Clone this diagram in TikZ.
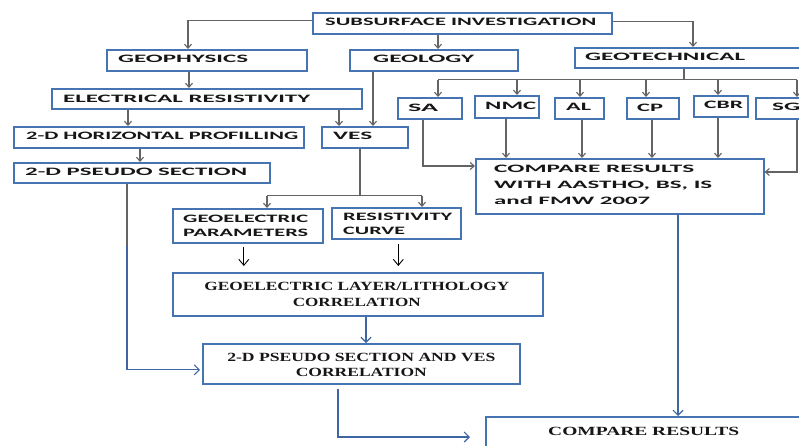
\documentclass[tikz,border=0pt]{standalone}
\usepackage{fontspec}
\usepackage{graphicx}
\usetikzlibrary{arrows.meta,calc}
\newfontfamily\calfont{Carlito}
\newfontfamily\tmsfont{Liberation Serif}
\newcommand\calb{\calfont\bfseries\fontsize{11.3}{14}\selectfont}
\newcommand\tmb{\tmsfont\bfseries\fontsize{12.5}{15.5}\selectfont}
\newcommand\tw[2]{\resizebox{#1pt}{\height}{#2}}
\definecolor{boxblue}{RGB}{70,116,178}
\definecolor{conngray}{RGB}{100,100,100}
\definecolor{lineblue}{RGB}{62,102,165}
\definecolor{txt}{RGB}{22,22,22}
\begin{document}
\begin{tikzpicture}[x=1pt,y=-1pt,
  box/.style={draw=boxblue, line width=1.6pt, fill=white, anchor=north west, inner sep=0pt},
  lbl/.style={anchor=west, inner sep=0pt, font=\calb, text=txt},
  slbl/.style={inner sep=0pt, font=\tmb, text=txt, align=center},
  conn/.style={draw=conngray, line width=1.1pt},
  arr/.style={conn, -{Straight Barb[length=4pt,width=7pt]}},
  bconn/.style={draw=lineblue, line width=1.2pt},
  barr/.style={bconn, -{Straight Barb[length=5pt,width=10pt,line width=1.1pt]}},
  karr/.style={draw=black, line width=0.9pt, -{Straight Barb[length=6pt,width=10pt]}}]
\useasboundingbox (0,0) rectangle (799,445);
\clip (0,0) rectangle (799,445);
\fill[white] (0,0) rectangle (799,445);

% boxes
\node[box, minimum width=299pt, minimum height=21pt] (sub) at (312,12) {};
\node[box, minimum width=200pt, minimum height=21pt] (geophys) at (106,49) {};
\node[box, minimum width=168pt, minimum height=21pt] (geology) at (349,49) {};
\node[box, minimum width=260pt, minimum height=20pt] (geotech) at (574,47) {};
\node[box, minimum width=310pt, minimum height=20pt] (er) at (51,88) {};
\node[box, minimum width=290pt, minimum height=21pt] (hp) at (13,126) {};
\node[box, minimum width=86pt, minimum height=21pt] (ves) at (321,126) {};
\node[box, minimum width=256pt, minimum height=20pt] (ps) at (13,162) {};
\node[box, minimum width=64pt, minimum height=21pt] (sa) at (397,97) {};
\node[box, minimum width=64pt, minimum height=22pt] (nmc) at (474,95) {};
\node[box, minimum width=49pt, minimum height=21pt] (al) at (554,97) {};
\node[box, minimum width=52pt, minimum height=21pt] (cp) at (626,97) {};
\node[box, minimum width=54pt, minimum height=21pt] (cbr) at (693,95) {};
\node[box, minimum width=70pt, minimum height=21pt] (sg) at (755,97) {};
\node[box, minimum width=288pt, minimum height=55pt] (cmp1) at (475,158) {};
\node[box, minimum width=150pt, minimum height=34pt] (gp) at (172,208) {};
\node[box, minimum width=129pt, minimum height=31pt] (rc) at (331,207) {};
\node[box, minimum width=370pt, minimum height=43pt] (glc) at (172,272) {};
\node[box, minimum width=317pt, minimum height=40pt] (psv) at (202,343) {};
\node[box, minimum width=340pt, minimum height=60pt] (cmp2) at (485,416) {};

% labels
\node[lbl] (sub-t) at ($(sub.west)+(13,-1)$) {\tw{271}{SUBSURFACE INVESTIGATION}};
\node[lbl] (geophys-t) at ($(geophys.west)+(12,-1)$) {\tw{130}{GEOPHYSICS}};
\node[lbl] (geology-t) at ($(geology.west)+(24,-1)$) {\tw{101}{GEOLOGY}};
\node[lbl] (geotech-t) at ($(geotech.west)+(11,-1)$) {\tw{160}{GEOTECHNICAL}};
\node[lbl] (er-t) at ($(er.west)+(12,0)$) {\tw{247}{ELECTRICAL RESISTIVITY}};
\node[lbl] (hp-t) at ($(hp.west)+(13,-1)$) {\tw{272}{2-D HORIZONTAL PROFILLING}};
\node[lbl] (ves-t) at ($(ves.west)+(12,-1)$) {\tw{39}{VES}};
\node[lbl] (ps-t) at ($(ps.west)+(12,-1)$) {\tw{222}{2-D PSEUDO SECTION}};
\node[lbl] (sa-t) at ($(sa.west)+(11,0)$) {\tw{30}{SA}};
\node[lbl] (nmc-t) at ($(nmc.west)+(11,-1)$) {\tw{51}{NMC}};
\node[lbl] (al-t) at ($(al.west)+(12,-1)$) {\tw{25}{AL}};
\node[lbl] (cp-t) at ($(cp.west)+(11,0)$) {\tw{26}{CP}};
\node[lbl] (cbr-t) at ($(cbr.west)+(11,-1)$) {\tw{39}{CBR}};
\node[lbl] (sg-t) at ($(sg.west)+(17,-1)$) {\tw{28}{SG}};
\node[lbl, align=left, font=\calfont\bfseries\fontsize{11.3}{16}\selectfont] (cmp1-t) at ($(cmp1.west)+(19,-1)$)
  {\tw{200}{COMPARE RESULTS}\\\tw{218}{WITH AASTHO, BS, IS}\\\tw{156}{and FMW 2007}};
\node[lbl, align=left] (gp-t) at ($(gp.west)+(11,0)$) {\tw{125}{GEOELECTRIC}\\\tw{125}{PARAMETERS}};
\node[lbl, align=left] (rc-t) at ($(rc.west)+(12,1)$) {\tw{109}{RESISTIVITY}\\\tw{62}{CURVE}};
\node[slbl] (glc-t) at ($(glc.center)+(-1,0)$) {\tw{305}{GEOELECTRIC LAYER/LITHOLOGY}\\\tw{128}{CORRELATION}};
\node[slbl] (psv-t) at ($(psv.center)+(0,1)$) {\tw{268}{2-D PSEUDO SECTION AND VES}\\\tw{131}{CORRELATION}};
\node[slbl, anchor=west] (cmp2-t) at ($(cmp2.north west)+(63,15)$) {\tw{191}{COMPARE RESULTS}};

% top connectors
\draw[arr] ($(sub.west)+(0,-3)$) -| ($(geophys.north west)+(82,0)$);
\draw[arr] ($(sub.south west)+(126,0)$) -- ($(geology.north west)+(89,0)$);
\draw[arr] ($(sub.east)+(0,-2)$) -| ($(geotech.north west)+(119,0)$);
\draw[arr] ($(geophys.south west)+(83,0)$) -- ($(er.north west)+(138,0)$);
\draw[arr] ($(er.south west)+(77,0)$) -- ($(hp.north west)+(115,0)$);
\draw[arr] ($(er.south west)+(288,0)$) -- ($(ves.north west)+(18,0)$);
\draw[arr] ($(geology.south west)+(24,0)$) -- ($(ves.north west)+(52,0)$);
\draw[arr] ($(hp.south west)+(127,0)$) -- ($(ps.north west)+(127,0)$);

% geotechnical tests
\coordinate (bar) at ($(geotech.south west)+(110,11)$);
\draw[conn] ($(geotech.south west)+(110,0)$) -- (bar);
\coordinate (sa-in) at ($(sa.north west)+(41,0)$);
\coordinate (nmc-in) at ($(nmc.north west)+(43,0)$);
\coordinate (al-in) at ($(al.north west)+(26,0)$);
\coordinate (cp-in) at ($(cp.north west)+(20,0)$);
\coordinate (cbr-in) at ($(cbr.north west)+(25,0)$);
\coordinate (sg-in) at ($(sg.north west)+(42,0)$);
\draw[conn] (sa-in |- bar) -- (sg-in |- bar);
\foreach \t in {sa,nmc,al,cp,cbr,sg}{
  \draw[arr] (\t-in |- bar) -- (\t-in);
}
\draw[arr] ($(sa.south west)+(26,0)$) |- ($(cmp1.north west)+(0,8)$);
\coordinate (nmc-out) at ($(nmc.south west)+(32,0)$);
\coordinate (al-out) at ($(al.south west)+(28,0)$);
\coordinate (cp-out) at ($(cp.south west)+(26,0)$);
\coordinate (cbr-out) at ($(cbr.south west)+(25,0)$);
\foreach \t in {nmc,al,cp,cbr}{
  \draw[arr] (\t-out) -- (\t-out |- cmp1.north);
}
\coordinate (sg-out) at ($(sg.south west)+(42,0)$);
\draw[arr] (sg-out) |- ($(cmp1.north east)+(0,14)$);

% cmp1 to cmp2
\coordinate (c1-out) at ($(cmp1.south west)+(203,0)$);
\draw[barr] (c1-out) -- (c1-out |- cmp2.north);

% pseudo section to correlation
\coordinate (ps-out) at ($(ps.south west)+(114,0)$);
\coordinate (ps-mid) at ($(ps-out)+(0,62)$);
\coordinate (ps-turn) at ($(ps-out |- psv.west)+(0,6)$);
\draw[conn] (ps-out) -- (ps-mid);
\draw[draw=lineblue, line width=2pt] (ps-mid) -- (ps-turn);
\draw[barr] (ps-turn) -- ($(psv.west)+(-2,6)$);

% VES branches
\coordinate (ves-out) at ($(ves.south west)+(39,0)$);
\coordinate (vb) at ($(ves-out)+(0,47)$);
\draw[conn] (ves-out) -- (vb);
\coordinate (gp-in) at ($(gp.north west)+(95,0)$);
\coordinate (rc-in) at ($(rc.north west)+(91,0)$);
\draw[conn] (gp-in |- vb) -- (rc-in |- vb);
\draw[arr] (gp-in |- vb) -- (gp-in);
\draw[arr] (rc-in |- vb) -- (rc-in);

% black arrows
\draw[karr] ($(gp.south)+(-4,3)$) -- ($(gp.south |- glc.north)+(-4,-6)$);
\draw[karr] ($(rc.south)+(2,4)$) -- ($(rc.south |- glc.north)+(2,-6)$);

% glc to psv
\coordinate (glc-out) at ($(glc.south west)+(194,0)$);
\draw[barr] (glc-out) -- (glc-out |- psv.north);

% psv to cmp2
\coordinate (psv-out) at ($(psv.south west)+(136,4)$);
\coordinate (psv-turn) at ($(psv-out |- cmp2.north)+(0,21)$);
\draw[draw=lineblue, line width=2.6pt] (psv-out) -- (psv-turn);
\draw[barr] ($(psv-turn)+(-1.3,0)$) -- ($(cmp2.north west)+(-15,21)$);
\end{tikzpicture}
\end{document}
